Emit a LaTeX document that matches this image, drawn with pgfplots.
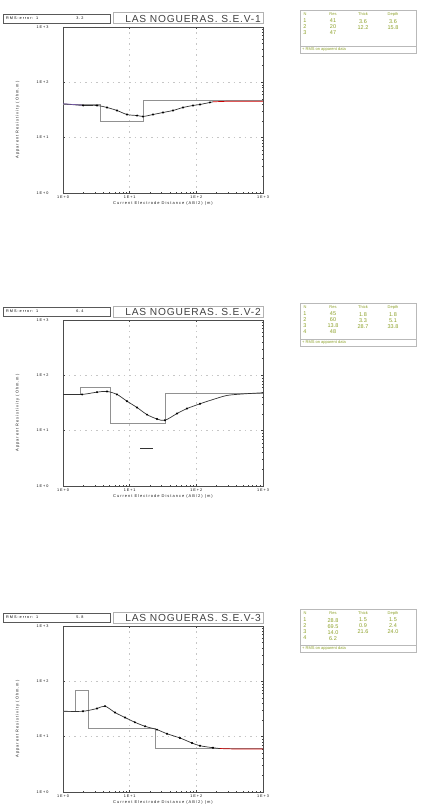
\documentclass[border=0pt]{standalone}
\usepackage{pgfplots}
\pgfplotsset{compat=1.18}
\usepackage{fontspec}
\setmainfont{Liberation Sans}
\newfontfamily\spaced[LetterSpace=25]{Liberation Sans}
\newfontfamily\titlef[LetterSpace=8]{Liberation Sans}
\definecolor{modelc}{RGB}{145,145,145}
\definecolor{tabc}{RGB}{140,160,40}
\definecolor{obsc}{RGB}{120,90,170}
\newcommand{\header}[3]{%
  \draw[gray!70!black, line width=0.8pt, fill=white] (3,-#1-1) rectangle (110,-#1-10);
  \node[font=\spaced\fontsize{3.8}{4}\selectfont, anchor=west, inner sep=0] at (6,-#1-5.5) {RMS-error: 1};
  \node[font=\spaced\fontsize{3.8}{4}\selectfont, inner sep=0] at (80,-#1-5.5) {#2};
  \draw[gray!60, line width=1pt] (113,-#1) rectangle (263,-#1-11);
  \node[font=\titlef\fontsize{10.2}{10.2}\selectfont, text=black!75, anchor=east, inner sep=0] at (261,-#1-5.7) {#3};
}
\newcommand{\ptable}[5]{%
  \draw[gray!55, line width=0.8pt] (300,-#1) rectangle (416,-#1-43);
  \draw[gray!55, line width=0.5pt] (300,-#1-36) -- (416,-#1-36);
  \begin{scope}[every node/.style={font=\fontsize{4}{4.6}\selectfont, text=tabc, inner sep=0, align=center}]
    \node at (305,-#1-4.5) {N};
    \node at (333,-#1-4.5) {Res};
    \node at (363,-#1-4.5) {Thick};
    \node at (393,-#1-4.5) {Depth};
    \begin{scope}[every node/.append style={font=\fontsize{5.5}{6}\selectfont}]
    \node[anchor=north] at (305,-#1-9) {#2};
    \node[anchor=north] at (333,-#1-9) {#3};
    \node[anchor=north] at (363,-#1-9) {#4};
    \node[anchor=north] at (393,-#1-9) {#5};
    \end{scope}
    \node[anchor=west] at (302,-#1-39.5) {+ RMS on apparent data};
  \end{scope}
}
\pgfplotsset{every axis/.append style={
  xmode=log, ymode=log, xmin=1, xmax=1000, ymin=1, ymax=1000,
  scale only axis, width=200pt, height=166pt, anchor=south west,
  xtick={1,10,100,1000}, ytick={1,10,100,1000},
  xticklabels={1E+0,1E+1,1E+2,1E+3},
  yticklabels={1E+0,1E+1,1E+2,1E+3},
  grid=major,
  major grid style={gray!45, dash pattern=on 1.5pt off 4pt, line width=0.5pt},
  tick label style={font=\spaced\fontsize{3.8}{4}\selectfont, text=gray!10!black},
  yticklabel style={xshift=-11pt},
  xticklabel style={yshift=0.5pt},
  axis line style={gray!60!black, line width=0.8pt},
  tick style={gray!50!black, line width=0.4pt},
  major tick length=2pt, minor tick length=1.2pt,
  xlabel={Current Electrode Distance (AB/2) (m)},
  ylabel={Apparent Resistivity (Ohm.m)},
  xlabel style={font=\spaced\fontsize{4}{4}\selectfont, text=gray!20!black, at={(axis description cs:0.5,0)}, anchor=north, yshift=-5.5pt},
  ylabel style={font=\spaced\fontsize{4}{4}\selectfont, text=gray!20!black, at={(axis description cs:-0.2,0.44)}, anchor=south},
}}
\begin{document}
\begin{tikzpicture}[x=1pt,y=1pt]
\path[use as bounding box] (0,0) rectangle (426,-808);

% ---------------- SEV-1
\begin{axis}[at={(63pt,-193pt)}]
\addplot[modelc, line width=0.5pt, const plot] coordinates {(1,41.0) (3.6,19.8) (15.8,47) (1000,47)};
\addplot[black!80, line width=0.7pt, smooth] coordinates {(1,41.0) (2.0,38.2) (3.24,38.2) (4.57,35.1) (6.45,31.0) (9.12,26.2) (12.9,25.1) (15.8,24.1) (22.4,26.2) (31.6,28.5) (44.7,31.0) (63.1,35.1) (89.1,38.2) (113.5,39.8) (160,43.3) (178,44.5)};
\addplot[obsc, line width=0.7pt] coordinates {(1,41.0) (2.0,38.6)};
\addplot[red!80!black, line width=0.7pt] coordinates {(178,44.5) (300,45.5) (1000,45.7)};
\addplot[only marks, mark=*, mark size=0.8pt, black] coordinates {(2.0,38.2) (3.24,38.2) (4.57,35.1) (6.45,31.0) (9.12,26.2) (12.9,25.1) (15.8,24.1) (22.4,26.2) (31.6,28.5) (44.7,31.0) (63.1,35.1) (89.1,38.2) (113.5,39.8) (160,43.3)};
\end{axis}
\header{13}{3.2}{LAS NOGUERAS. S.E.V-1}
\ptable{10}{1\\2\\3}{41\\20\\47}{3.6\\12.2}{3.6\\15.8}

% ---------------- SEV-2
\begin{axis}[at={(63pt,-486pt)}]
\addplot[modelc, line width=0.5pt, const plot] coordinates {(1,45) (1.8,60) (5.1,13.8) (33.8,48.4) (1000,48.4)};
\addplot[black!80, line width=0.7pt, smooth] coordinates {(1,45.2) (1.93,45.2) (3.24,49.7) (4.57,51.2) (6.45,45.2) (9.12,34.1) (12.9,26.2) (18.2,19.5) (25.7,16.3) (33.8,15.4) (51.3,20.4) (72.4,25.1) (113.5,30.6) (178,36.6) (288,43.3) (501,46.1) (1000,48.5)};
\addplot[only marks, mark=*, mark size=0.8pt, black] coordinates {(1.93,45.2) (3.24,49.7) (4.57,51.2) (6.45,45.2) (9.12,34.1) (12.9,26.2) (18.2,19.5) (25.7,16.3) (33.8,15.4) (51.3,20.4) (72.4,25.1) (113.5,30.6)};
\addplot[black!80, line width=0.6pt] coordinates {(14.3,4.9) (22.4,4.9)};
\end{axis}
\header{306}{6.4}{LAS NOGUERAS. S.E.V-2}
\ptable{303}{1\\2\\3\\4}{45\\60\\13.8\\48}{1.8\\3.3\\28.7}{1.8\\5.1\\33.8}

% ---------------- SEV-3
\begin{axis}[at={(63pt,-792pt)}]
\addplot[modelc, line width=0.5pt, const plot] coordinates {(1,28.8) (1.51,69.5) (2.37,14.0) (24,6.23) (1000,6.23)};
\addplot[black!80, line width=0.7pt, smooth] coordinates {(1,28.8) (2.0,28.8) (3.24,32.3) (4.27,35.6) (6.03,27.3) (8.51,22.2) (12.0,18.2) (17.0,15.4) (25.7,13.4) (36.3,11.3) (56.9,9.47) (86.1,7.68) (113.5,6.86) (178,6.31) (226,6.1)};
\addplot[red!80!black, line width=0.7pt] coordinates {(226,6.1) (355,6.0) (1000,6.0)};
\addplot[only marks, mark=*, mark size=0.8pt, black] coordinates {(2.0,28.8) (3.24,32.3) (4.27,35.6) (6.03,27.3) (8.51,22.2) (12.0,18.2) (17.0,15.4) (25.7,13.4) (36.3,11.3) (56.9,9.47) (86.1,7.68) (113.5,6.86) (178,6.31)};
\end{axis}
\header{612}{5.8}{LAS NOGUERAS. S.E.V-3}
\ptable{609}{1\\2\\3\\4}{28.8\\69.5\\14.0\\6.2}{1.5\\0.9\\21.6}{1.5\\2.4\\24.0}
\end{tikzpicture}
\end{document}
